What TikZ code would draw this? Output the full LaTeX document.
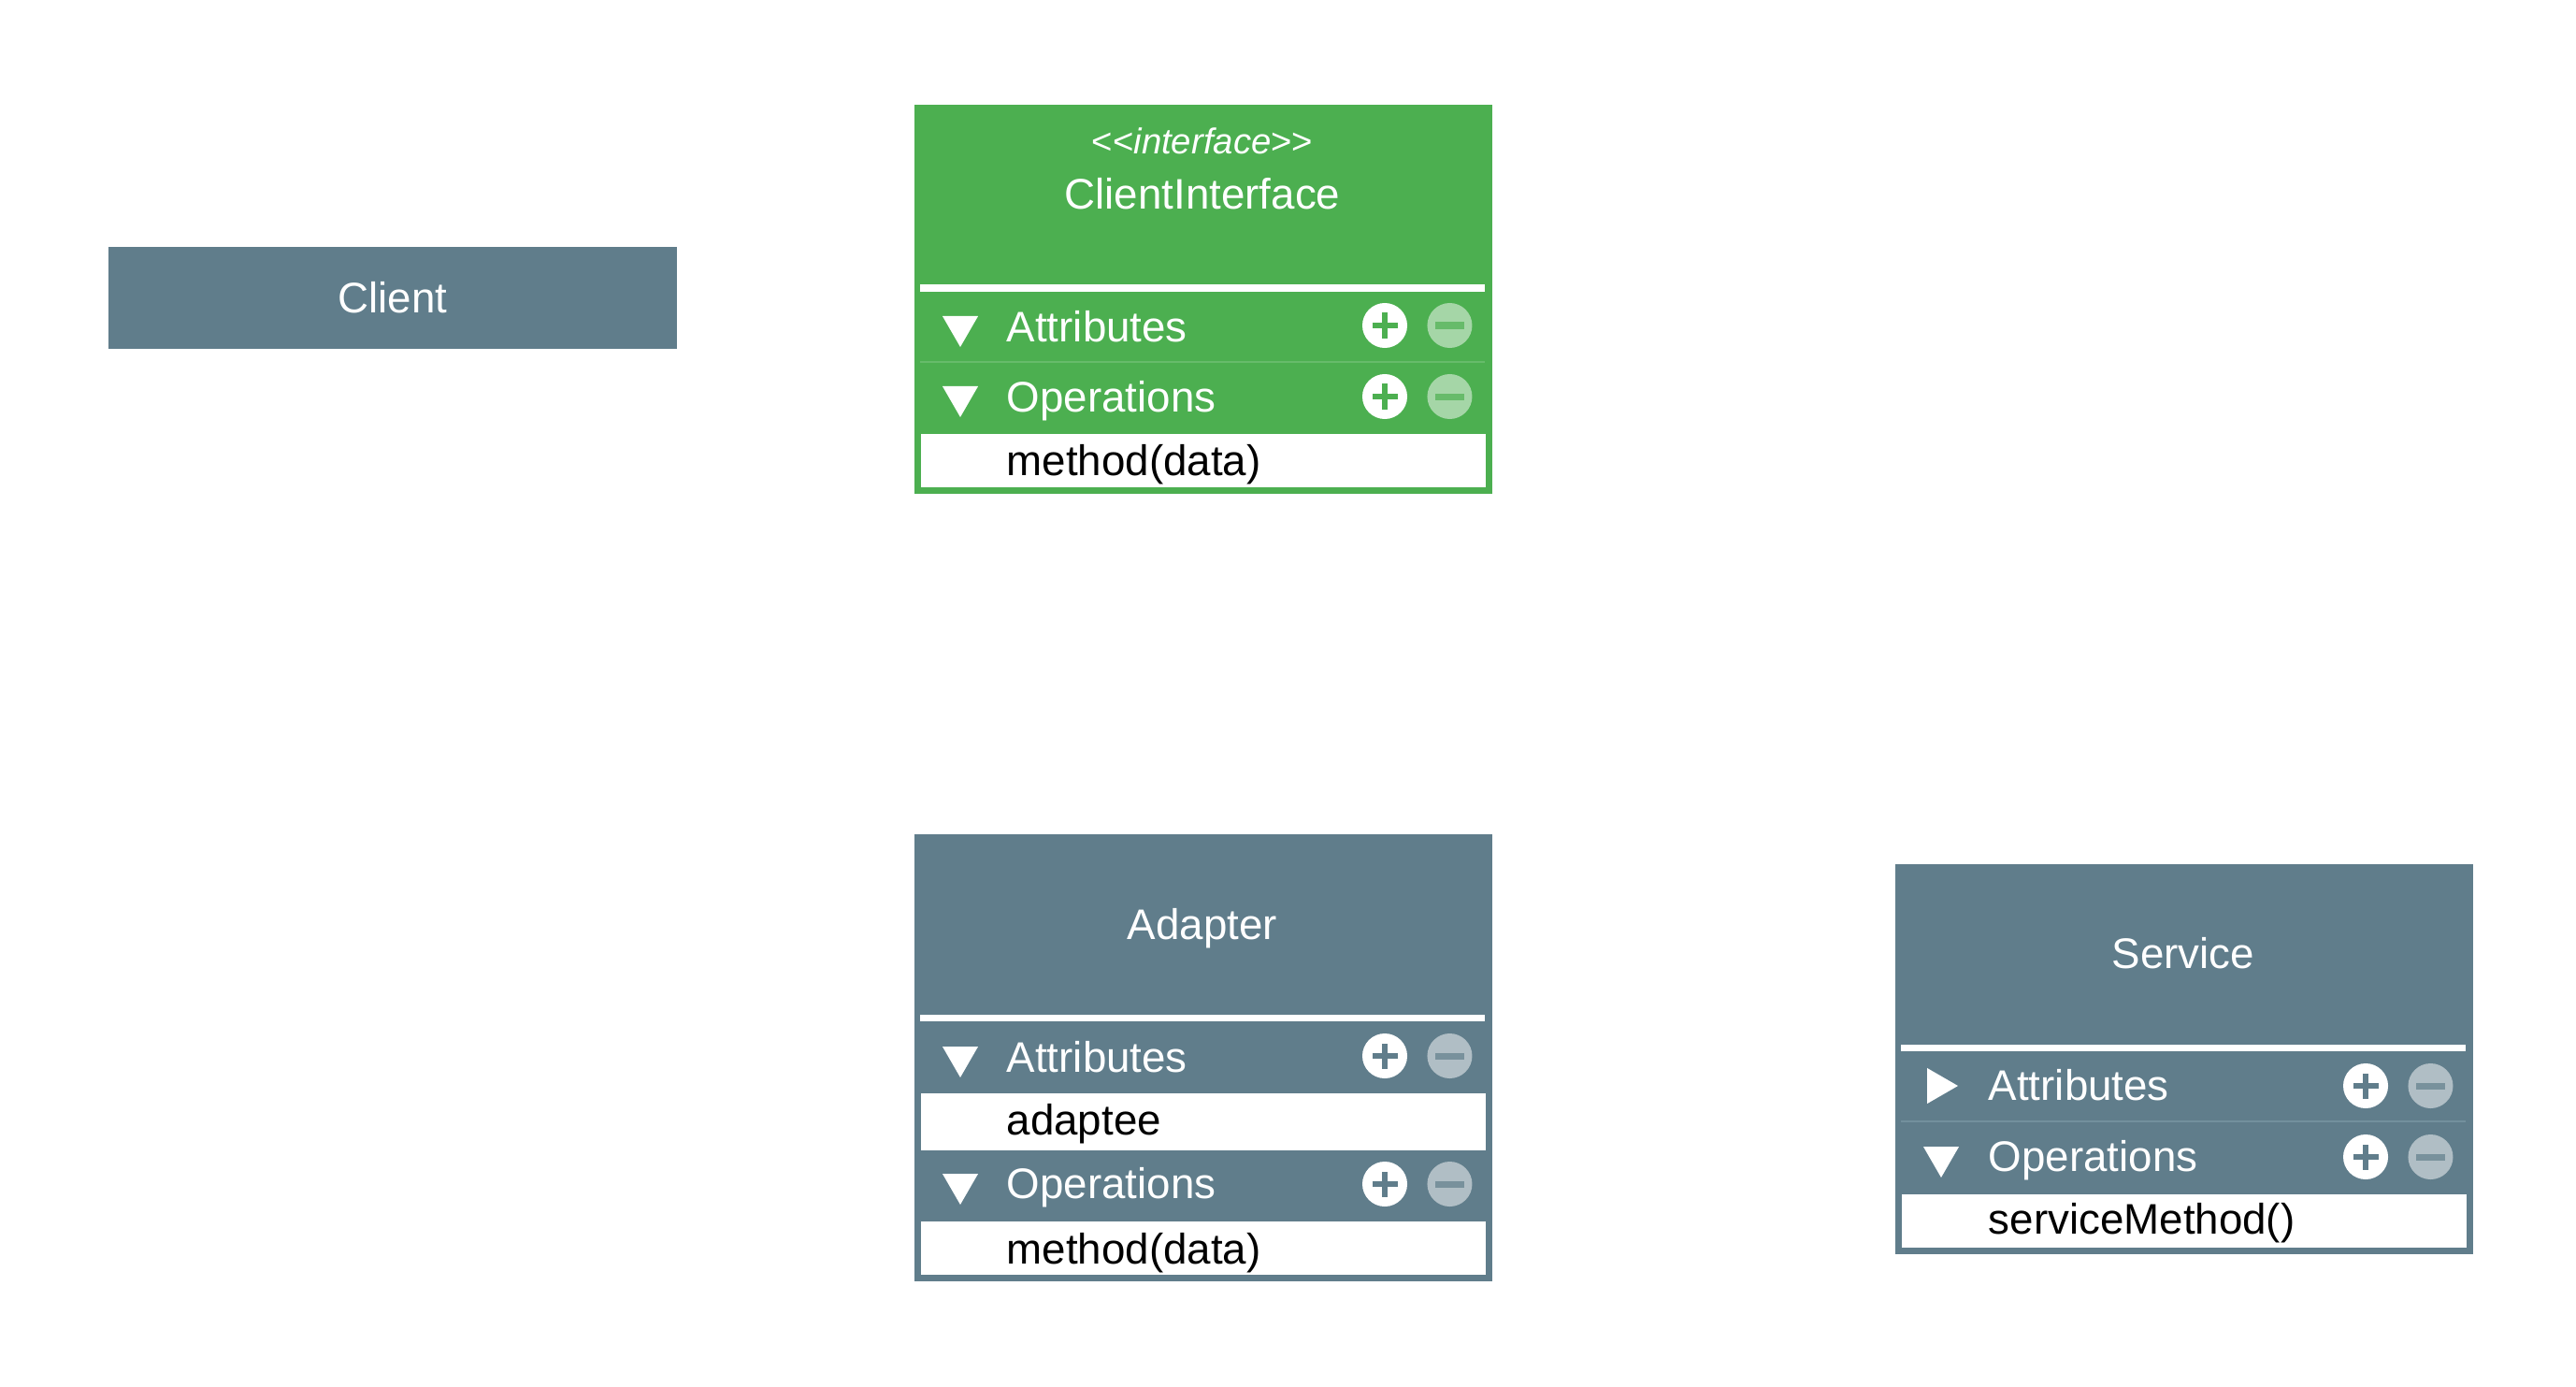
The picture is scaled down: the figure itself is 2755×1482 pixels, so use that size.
\documentclass[tikz,border=0pt]{standalone}
\usepackage{fontspec}
\setmainfont{Liberation Sans}
\usepackage{tikz}
\usetikzlibrary{positioning,shapes.geometric}
\definecolor{classgreen}{HTML}{4CAF50}
\definecolor{classgrey}{HTML}{607D8B}
\definecolor{lightgreen}{HTML}{A5D6A7}
\definecolor{lightgrey}{HTML}{B0BEC5}
\definecolor{linegreen}{HTML}{66BB6A}
\definecolor{linegrey}{HTML}{73909D}

\begin{document}
\begin{tikzpicture}[x=0.01cm, y=-0.01cm, font=\fontsize{13}{15}\selectfont,
	classbox/.style={rectangle, inner sep=0, minimum width=6.18cm, anchor=north west},
	sepbar/.style={rectangle, fill=white, inner sep=0, minimum width=6.04cm, minimum height=0.07cm},
	itemrow/.style={rectangle, fill=white, inner sep=0, minimum width=6.04cm, anchor=north west},
	thinline/.style={rectangle, inner sep=0, minimum width=6.04cm, minimum height=0.02cm},
	titletext/.style={text=white, anchor=base, inner sep=0},
	rowtext/.style={text=white, anchor=base west, inner sep=0},
	itemtext/.style={text=black, anchor=base west, inner sep=0},
	tridown/.style={regular polygon, regular polygon sides=3, regular polygon rotate=180, fill=white, minimum size=0.44cm, inner sep=0},
	triright/.style={regular polygon, regular polygon sides=3, regular polygon rotate=-90, fill=white, minimum size=0.44cm, inner sep=0},
	plusbtn/.style={circle, fill=white, minimum size=0.48cm, inner sep=0, path picture={
		\fill[#1] ([shift={(-0.135cm,-0.032cm)}]path picture bounding box.center) rectangle ([shift={(0.135cm,0.032cm)}]path picture bounding box.center);
		\fill[#1] ([shift={(-0.032cm,-0.135cm)}]path picture bounding box.center) rectangle ([shift={(0.032cm,0.135cm)}]path picture bounding box.center);}},
	minusbtn/.style 2 args={circle, fill=#1, minimum size=0.48cm, inner sep=0, path picture={
		\fill[#2] ([shift={(-0.155cm,-0.035cm)}]path picture bounding box.center) rectangle ([shift={(0.155cm,0.035cm)}]path picture bounding box.center);}}]
			\fill[white] (0,0) rectangle (2755,1482);
			\useasboundingbox (0,0) rectangle (2755,1482);
			% client
			\node [rectangle, fill=classgrey, text=white, minimum width=6.08cm, minimum height=1.09cm] (CLIENT) at (420,318.5) {Client};
			% client interface
			\node [classbox, fill=classgreen, minimum height=4.16cm] (IFACE) at (977,111) {};
			\node [titletext, font=\fontsize{10.9}{13}\selectfont] (IFACESTEREO) at (1286,165) {<\kern0pt<\textit{interface}>\kern0pt>};
			\node [titletext] (IFACENAME) at (1286,224) {ClientInterface};
			\node [sepbar] (IFACESEP) at (1286,308) {};
			\node [tridown] (IFACEATTRTRI) at (1027,349) {};
			\node [rowtext] (IFACEATTR) at (1076,365) {Attributes};
			\node [plusbtn=classgreen] (IFACEATTRPLUS) at (1481,348) {};
			\node [minusbtn={lightgreen}{classgreen!85!white}] (IFACEATTRMINUS) [right=0.2cm of IFACEATTRPLUS] {};
			\node [thinline, fill=linegreen] (IFACELINE) at (1286,387) {};
			\node [tridown] (IFACEOPTRI) at (1027,424) {};
			\node [rowtext] (IFACEOP) at (1076,440) {Operations};
			\node [plusbtn=classgreen] (IFACEOPPLUS) at (1481,424) {};
			\node [minusbtn={lightgreen}{classgreen!85!white}] (IFACEOPMINUS) [right=0.2cm of IFACEOPPLUS] {};
			\node [itemrow, minimum height=0.57cm] (IFACEMETHODROW) at (984,463) {};
			\node [itemtext] (IFACEMETHOD) at (1076,508) {method(data)};
			% adapter
			\node [classbox, fill=classgrey, minimum height=4.78cm] (ADAPTER) at (977,891) {};
			\node [titletext] (ADAPTERNAME) at (1286,1004) {Adapter};
			\node [sepbar] (ADAPTERSEP) at (1286,1088.5) {};
			\node [tridown] (ADAPTERATTRTRI) at (1027,1130) {};
			\node [rowtext] (ADAPTERATTR) at (1076,1146) {Attributes};
			\node [plusbtn=classgrey] (ADAPTERATTRPLUS) at (1481,1129) {};
			\node [minusbtn={lightgrey}{classgrey!85!white}] (ADAPTERATTRMINUS) [right=0.2cm of ADAPTERATTRPLUS] {};
			\node [itemrow, minimum height=0.61cm] (ADAPTEEROW) at (984,1168) {};
			\node [itemtext] (ADAPTEE) at (1076,1213) {adaptee};
			\node [tridown] (ADAPTEROPTRI) at (1027,1266) {};
			\node [rowtext] (ADAPTEROP) at (1076,1281) {Operations};
			\node [plusbtn=classgrey] (ADAPTEROPPLUS) at (1481,1266) {};
			\node [minusbtn={lightgrey}{classgrey!85!white}] (ADAPTEROPMINUS) [right=0.2cm of ADAPTEROPPLUS] {};
			\node [itemrow, minimum height=0.57cm] (ADAPTERMETHODROW) at (984,1305) {};
			\node [itemtext] (ADAPTERMETHOD) at (1076,1351) {method(data)};
			% service
			\node [classbox, fill=classgrey, minimum height=4.17cm] (SERVICE) at (2026,923) {};
			\node [titletext] (SERVICENAME) at (2335,1035) {Service};
			\node [sepbar] (SERVICESEP) at (2335,1120.5) {};
			\node [triright] (SERVICEATTRTRI) at (2072,1161) {};
			\node [rowtext] (SERVICEATTR) at (2126,1176) {Attributes};
			\node [plusbtn=classgrey] (SERVICEATTRPLUS) at (2530,1161) {};
			\node [minusbtn={lightgrey}{classgrey!85!white}] (SERVICEATTRMINUS) [right=0.2cm of SERVICEATTRPLUS] {};
			\node [thinline, fill=linegrey] (SERVICELINE) at (2335,1199) {};
			\node [tridown] (SERVICEOPTRI) at (2076,1237) {};
			\node [rowtext] (SERVICEOP) at (2126,1252) {Operations};
			\node [plusbtn=classgrey] (SERVICEOPPLUS) at (2530,1237) {};
			\node [minusbtn={lightgrey}{classgrey!85!white}] (SERVICEOPMINUS) [right=0.2cm of SERVICEOPPLUS] {};
			\node [itemrow, minimum height=0.57cm] (SERVICEMETHODROW) at (2033,1276) {};
			\node [itemtext] (SERVICEMETHOD) at (2126,1319) {serviceMethod()};
		\end{tikzpicture}
\end{document}
